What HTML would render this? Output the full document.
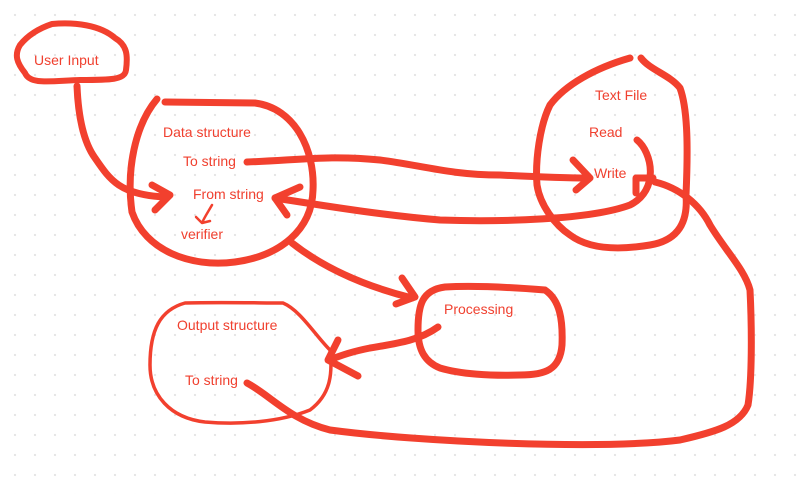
<!DOCTYPE html>
<html><head><meta charset="utf-8"><style>
html,body{margin:0;padding:0;background:#fff;}
body{width:800px;height:494px;overflow:hidden;
background-image:radial-gradient(circle,#e4e4e4 1px,transparent 1.3px);background-size:20px 20px;background-position:5px 5px;}
svg{position:absolute;left:0;top:0}
text{font-family:"Liberation Sans",sans-serif;font-size:14px;fill:#f0402f}
</style></head><body>
<svg width="800" height="494" viewBox="0 0 800 494">
<g fill="none" stroke="#f2402e" stroke-linecap="round" stroke-linejoin="round">
<!-- User Input -->
<path stroke-width="6" d="M52,24 C75,22 100,25 115,38 C127,45 128,55 126,70 C125,80 110,80 80,80 C50,81 30,85 25,73 C17,63 14,55 20,45 C28,35 40,28 52,24Z"/>
<!-- User input -> data -->
<path stroke-width="7" d="M77,86 C78,110 82,140 95,158 C110,180 120,195 165,197"/>
<path stroke-width="7" d="M152,185 L170,195 L155,210"/>
<!-- Data structure -->
<path stroke-width="7" d="M157,99 C135,125 126,170 132,212 C145,250 190,268 235,262 C280,256 312,230 313,190 C315,150 295,108 255,103 L165,102"/>
<!-- To string -> Write -->
<path stroke-width="7" d="M247,162 C300,160 330,155 380,160 C420,165 450,175 500,175 C540,177 570,178 588,178"/>
<path stroke-width="7" d="M573,160 L590,178 L576,190"/>
<!-- Read -> From string -->
<path stroke-width="7" d="M637,140 C652,152 660,190 630,205 C590,220 500,222 440,220 C380,215 320,205 275,198"/>
<path stroke-width="7" d="M300,187 L275,198 L287,215"/>
<!-- Text File -->
<path stroke-width="7" d="M630,58 C595,68 565,85 550,105 C540,125 535,160 537,185 C540,205 555,225 570,235 C590,250 620,250 650,245 C680,240 688,220 686,195 C688,150 688,110 680,88 C670,75 650,70 641,58"/>
<!-- Write arrow from right loop -->
<path stroke-width="7" d="M636,193 L636,178 L653,178"/>
<path stroke-width="7" d="M655,182 C680,188 700,205 710,225 C725,250 745,270 750,290 C752,330 752,380 748,405 C740,425 715,432 680,440 C600,450 420,442 330,430 C290,420 270,395 247,383"/>
<!-- Data -> Processing -->
<path stroke-width="7" d="M292,243 C320,265 360,285 412,298"/>
<path stroke-width="7" d="M402,278 L415,297 L396,304"/>
<!-- Processing box -->
<path stroke-width="7" d="M445,287 C480,285 520,288 545,290 C560,300 563,320 562,345 C560,370 545,375 520,375 C490,376 460,374 440,368 C425,362 418,350 418,330 C418,305 422,290 445,287Z"/>
<!-- Processing -> Output -->
<path stroke-width="7" d="M438,327 C420,340 400,343 370,348 C350,352 340,356 329,360"/>
<path stroke-width="7" d="M338,340 L328,360 L358,376"/>
<!-- Output structure -->
<path stroke-width="3.5" d="M185,303 C220,302 260,303 283,303 C300,310 315,335 330,350 C333,375 330,395 310,410 C280,422 240,425 205,422 C170,418 150,395 150,365 C150,330 160,310 185,303Z"/>
<!-- verifier check -->
<path stroke-width="2.5" d="M212,205 C208,212 204,218 202,223 M196,217 L202,223 L210,221"/>
</g>
<text x="34" y="65">User Input</text>
<text x="163" y="137">Data structure</text>
<text x="183" y="166">To string</text>
<text x="193" y="199">From string</text>
<text x="181" y="239">verifier</text>
<text x="595" y="100">Text File</text>
<text x="589" y="137">Read</text>
<text x="594" y="178">Write</text>
<text x="444" y="314">Processing</text>
<text x="177" y="330">Output structure</text>
<text x="185" y="385">To string</text>
</svg>
</body></html>
